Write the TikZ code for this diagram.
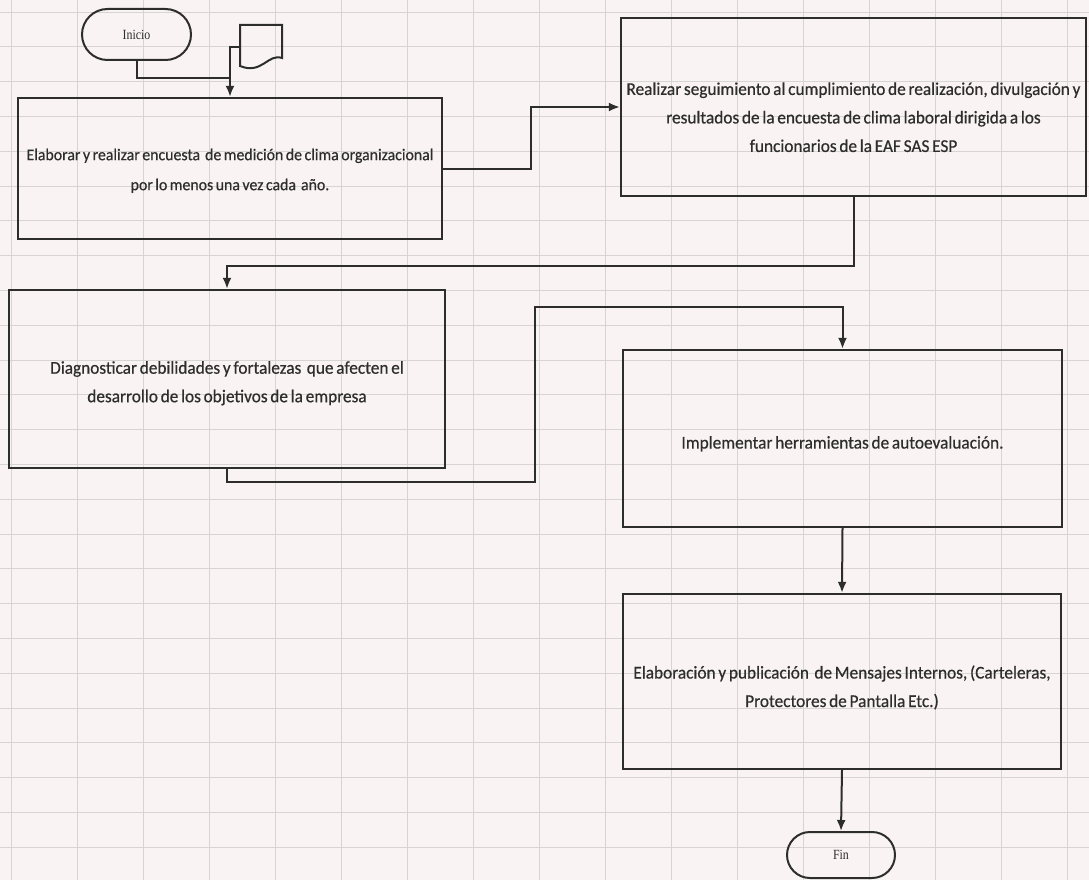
\documentclass[tikz,border=0pt]{standalone}
\usepackage{fontspec}
\setmainfont{Carlito}[FakeStretch=0.96, WordSpace=0.7, FakeBold=0.5]
\newfontfamily\termfont{Liberation Serif}[FakeStretch=0.85]
\usetikzlibrary{positioning, arrows.meta, shapes.misc}
\definecolor{paper}{RGB}{250,243,243}
\definecolor{gridgray}{RGB}{214,212,212}
\definecolor{ink}{RGB}{45,45,45}
\newcommand{\bajar}[1]{\rule{0pt}{#1}}
\tikzset{
  procbox/.style={draw=ink, line width=2.4pt, rectangle, align=center, inner sep=0pt,
    font=\fontsize{18}{28.5}\selectfont\color{ink}}
}
\tikzset{
  termbox/.style={draw=ink, line width=2pt, rounded rectangle, inner sep=0pt,
    font=\termfont\fontsize{14}{16}\selectfont\color{ink}}
}
\tikzset{
  flowline/.style={draw=ink, line width=2pt},
  flowarrow/.style={flowline, -{Latex[length=11pt,width=9pt]}},
  gridline/.style={draw=gridgray, line width=0.8pt}
}
\begin{document}
\begin{tikzpicture}[x=1pt, y=-1pt]
  \useasboundingbox (0,0) rectangle (1089,880);
  % squared paper behind the chart
  \fill[paper] (0,0) rectangle (1089,880);
  \foreach \gx in {11,77,...,1089} \draw[gridline] (\gx,0) -- (\gx,880);
  \foreach \gy in {12,46.8,...,880} \draw[gridline] (0,\gy) -- (1089,\gy);

  \node[termbox, minimum width=109, minimum height=51] (inicio) at (136.5,34.5) {Inicio};
  \draw[flowline] (240,25) -- (282,25) -- (282,58)
    .. controls (268,53) and (262,75) .. (240,66) -- cycle;
  \coordinate (docin) at (240,47);
  \coordinate (union) at (230,78);

  \node[procbox, minimum width=424, minimum height=141, font=\fontsize{16.5}{30}\selectfont\color{ink}]
    (elaborar) at (230,168.5)
    {\bajar{16pt}Elaborar y realizar encuesta \ de medición de clima organizacional\\por lo menos una vez cada \ año.};
  \node[procbox, minimum width=465, minimum height=178] (seguimiento) at (853.5,107)
    {\bajar{33pt}Realizar seguimiento al cumplimiento de realización, divulgación y\\resultados de la encuesta de clima laboral dirigida a los\\funcionarios de la EAF SAS ESP};
  \node[procbox, minimum width=436, minimum height=178] (diagnostico) at (227,379)
    {\bajar{21pt}Diagnosticar debilidades y fortalezas \ que afecten el\\desarrollo de los objetivos de la empresa};
  \node[procbox, minimum width=439, minimum height=177] (herramientas) at (842.5,438.5)
    {\bajar{23pt}Implementar herramientas de autoevaluación.};
  \node[procbox, minimum width=438, minimum height=175] (mensajes) at (842,681.5)
    {\bajar{25pt}Elaboración y publicación \ de Mensajes Internos, (Carteleras,\\Protectores de Pantalla Etc.)};
  \node[termbox, minimum width=108, minimum height=46] (fin) at (841,855) {Fin};

  \draw[flowline] (inicio.south) |- (union);
  \draw[flowline] (docin) -| (union);
  \draw[flowarrow] (union) -- (elaborar.north);
  \draw[flowarrow] (elaborar.east) -- ++(88,0) |- (seguimiento.west);
  \draw[flowarrow] (seguimiento.south) -- ++(0,69) -| (diagnostico.north);
  % detour up and over to the right column
  \coordinate (paso) at (535,307);
  \draw[flowarrow] (diagnostico.south) -- ++(0,13) -| (paso) -| (herramientas.north);
  \draw[flowarrow] (herramientas.south) -- (mensajes.north);
  \draw[flowarrow] (mensajes.south) -- (fin.north);
\end{tikzpicture}
\end{document}
